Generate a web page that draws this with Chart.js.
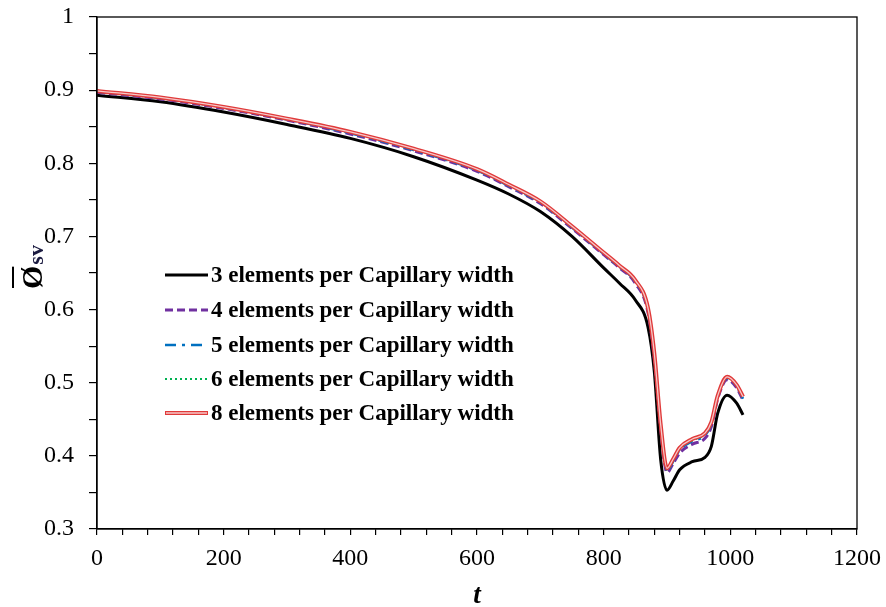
<!DOCTYPE html>
<html>
<head>
<meta charset="utf-8">
<script src="https://cdn.jsdelivr.net/npm/chart.js@4"></script>
<style>
  html, body { margin: 0; padding: 0; background: #fff; }
  #wrap { width: 886px; height: 607px; }
</style>
</head>
<body>
<div id="wrap"><canvas id="chart" width="886" height="607"></canvas></div>
<script>
    // time axis (shared by all series)
    const tValues = [0, 100, 200, 300, 400, 500, 600, 650, 700, 750, 800, 825, 850, 870, 880, 890, 900, 910, 920, 940, 960, 970, 980, 995, 1010, 1020];

    // mean phi_sv for each mesh size
    const phi3 = [0.893, 0.884, 0.870, 0.853, 0.834, 0.809, 0.777, 0.758, 0.734, 0.700, 0.657, 0.636, 0.613, 0.576, 0.515, 0.395, 0.353, 0.366, 0.381, 0.392, 0.398, 0.413, 0.458, 0.483, 0.472, 0.456];
    const phi4 = [0.897, 0.888, 0.875, 0.859, 0.840, 0.817, 0.789, 0.768, 0.745, 0.711, 0.675, 0.657, 0.636, 0.596, 0.532, 0.437, 0.377, 0.390, 0.404, 0.416, 0.424, 0.440, 0.478, 0.504, 0.493, 0.476];
    const phi5 = [0.898, 0.889, 0.876, 0.860, 0.841, 0.818, 0.790, 0.769, 0.746, 0.712, 0.676, 0.658, 0.638, 0.599, 0.536, 0.440, 0.380, 0.393, 0.408, 0.420, 0.428, 0.443, 0.480, 0.506, 0.495, 0.478];
    const phi6 = [0.898, 0.889, 0.876, 0.860, 0.842, 0.819, 0.791, 0.770, 0.747, 0.713, 0.677, 0.659, 0.639, 0.600, 0.538, 0.441, 0.381, 0.394, 0.409, 0.421, 0.430, 0.445, 0.481, 0.507, 0.496, 0.480];
    const phi8 = [0.899, 0.890, 0.877, 0.861, 0.843, 0.820, 0.792, 0.771, 0.748, 0.714, 0.678, 0.660, 0.640, 0.602, 0.540, 0.443, 0.383, 0.396, 0.411, 0.423, 0.431, 0.446, 0.482, 0.508, 0.497, 0.481];

    const seriesLabels = [
      '3 elements per Capillary width',
      '4 elements per Capillary width',
      '5 elements per Capillary width',
      '6 elements per Capillary width',
      '8 elements per Capillary width'
    ];

    const xTicks = [0, 200, 400, 600, 800, 1000, 1200];
    const yTicks = [0.3, 0.4, 0.5, 0.6, 0.7, 0.8, 0.9, 1];

    const SERIF = '"Liberation Serif", "Times New Roman", serif';

    function toPoints(ys) {
      return tValues.map((t, i) => ({ x: t, y: ys[i] }));
    }

    function lineSet(label, ys, color, width, dash, order, extra) {
      return Object.assign({
        label: label,
        data: toPoints(ys),
        borderColor: color,
        borderWidth: width,
        borderDash: dash,
        pointRadius: 0,
        fill: false,
        cubicInterpolationMode: 'monotone',
        order: order
      }, extra || {});
    }

    const datasets = [
      lineSet(seriesLabels[0], phi3, '#000000', 3, [], 5),
      lineSet(seriesLabels[1], phi4, '#7030a0', 3, [8, 4], 4),
      lineSet(seriesLabels[2], phi5, '#0070c0', 2.5, [11, 6, 3, 6], 3),
      lineSet(seriesLabels[3], phi6, '#00b050', 2, [2, 3], 2),
      lineSet(seriesLabels[4], phi8, '#e03a3a', 4, [], 1),
      // inner light stroke for the double red line
      lineSet('', phi8, '#f7c9c9', 1.3, [], 0, { isInner: true })
    ];

    // box, axis titles and in-plot legend
    const decorPlugin = {
      id: 'decor',
      afterDraw(chart) {
        const ctx = chart.ctx;
        const a = chart.chartArea;
        ctx.save();
        ctx.strokeStyle = '#000';
        ctx.lineWidth = 1.3;
        ctx.strokeRect(a.left, a.top, a.right - a.left, a.bottom - a.top);

        // x title
        ctx.fillStyle = '#000';
        ctx.font = 'italic bold 27px ' + SERIF;
        ctx.textAlign = 'center';
        ctx.textBaseline = 'alphabetic';
        ctx.fillText('t', (a.left + a.right) / 2, 603);

        // y title: overlined O-slash with sv, rotated
        ctx.translate(42, 289);
        ctx.rotate(-Math.PI / 2);
        ctx.textAlign = 'left';
        ctx.font = 'bold 30px ' + SERIF;
        const w0 = ctx.measureText('Ø').width;
        ctx.fillText('Ø', 0, 0);
        ctx.fillRect(1, -30, w0 - 2, 2);
        ctx.font = 'bold 22px ' + SERIF;
        ctx.fillStyle = '#1a1a40';
        ctx.fillText('sv', w0 + 1, 1);
        ctx.restore();

        // legend
        ctx.save();
        const rows = [275, 310, 345, 379, 413];
        chart.data.datasets.forEach((ds, i) => {
          if (ds.isInner) return;
          const y = rows[i];
          ctx.beginPath();
          ctx.setLineDash(ds.borderDash);
          ctx.strokeStyle = ds.borderColor;
          ctx.lineWidth = ds.borderWidth;
          ctx.moveTo(165, y);
          ctx.lineTo(208, y);
          ctx.stroke();
          if (i === 4) {
            ctx.beginPath();
            ctx.strokeStyle = '#f7c9c9';
            ctx.lineWidth = 1.3;
            ctx.moveTo(166, y);
            ctx.lineTo(207, y);
            ctx.stroke();
          }
          ctx.setLineDash([]);
          ctx.fillStyle = '#000';
          ctx.font = 'bold 23px ' + SERIF;
          ctx.textAlign = 'left';
          ctx.textBaseline = 'middle';
          ctx.fillText(ds.label, 211, y + 1);
        });
        ctx.restore();
      }
    };

    const ctx = document.getElementById('chart').getContext('2d');
    new Chart(ctx, {
      type: 'line',
      data: { datasets: datasets },
      options: {
        responsive: false,
        animation: false,
        layout: { padding: { top: 17, right: 29, left: 0, bottom: 0 } },
        plugins: {
          legend: { display: false },
          tooltip: { enabled: false }
        },
        scales: {
          x: {
            type: 'linear',
            min: 0,
            max: 1200,
            afterFit(scale) {
              scale.height = 78;
              scale.paddingLeft = 0;
              scale.paddingRight = 0;
            },
            afterBuildTicks(scale) {
              const out = [];
              for (let v = 0; v <= 1200; v += 40) out.push({ value: v });
              scale.ticks = out;
            },
            ticks: {
              autoSkip: false,
              maxRotation: 0,
              padding: 9,
              color: '#000',
              font: { family: SERIF, size: 24 },
              callback: (v) => xTicks.includes(v) ? String(v) : ''
            },
            grid: { drawOnChartArea: false, drawTicks: true, tickLength: 6, color: '#000', lineWidth: 1.2 },
            border: { display: true, color: '#000', width: 1.3 }
          },
          y: {
            type: 'linear',
            min: 0.3,
            max: 1,
            afterFit(scale) {
              scale.width = 97;
              scale.paddingTop = 0;
              scale.paddingBottom = 0;
            },
            afterBuildTicks(scale) {
              const out = [];
              for (let k = 6; k <= 20; k++) out.push({ value: k / 20 });
              scale.ticks = out;
            },
            ticks: {
              autoSkip: false,
              padding: 15,
              color: '#000',
              font: { family: SERIF, size: 24 },
              callback: (v) => {
                const r = Math.round(v * 10) / 10;
                if (Math.abs(r - v) > 1e-6 || !yTicks.includes(r)) return '';
                return r === 1 ? '1' : r.toFixed(1);
              }
            },
            grid: { drawOnChartArea: false, drawTicks: true, tickLength: 8, color: '#000', lineWidth: 1.2 },
            border: { display: true, color: '#000', width: 1.3 }
          }
        }
      },
      plugins: [decorPlugin]
    });
</script>
</body>
</html>
